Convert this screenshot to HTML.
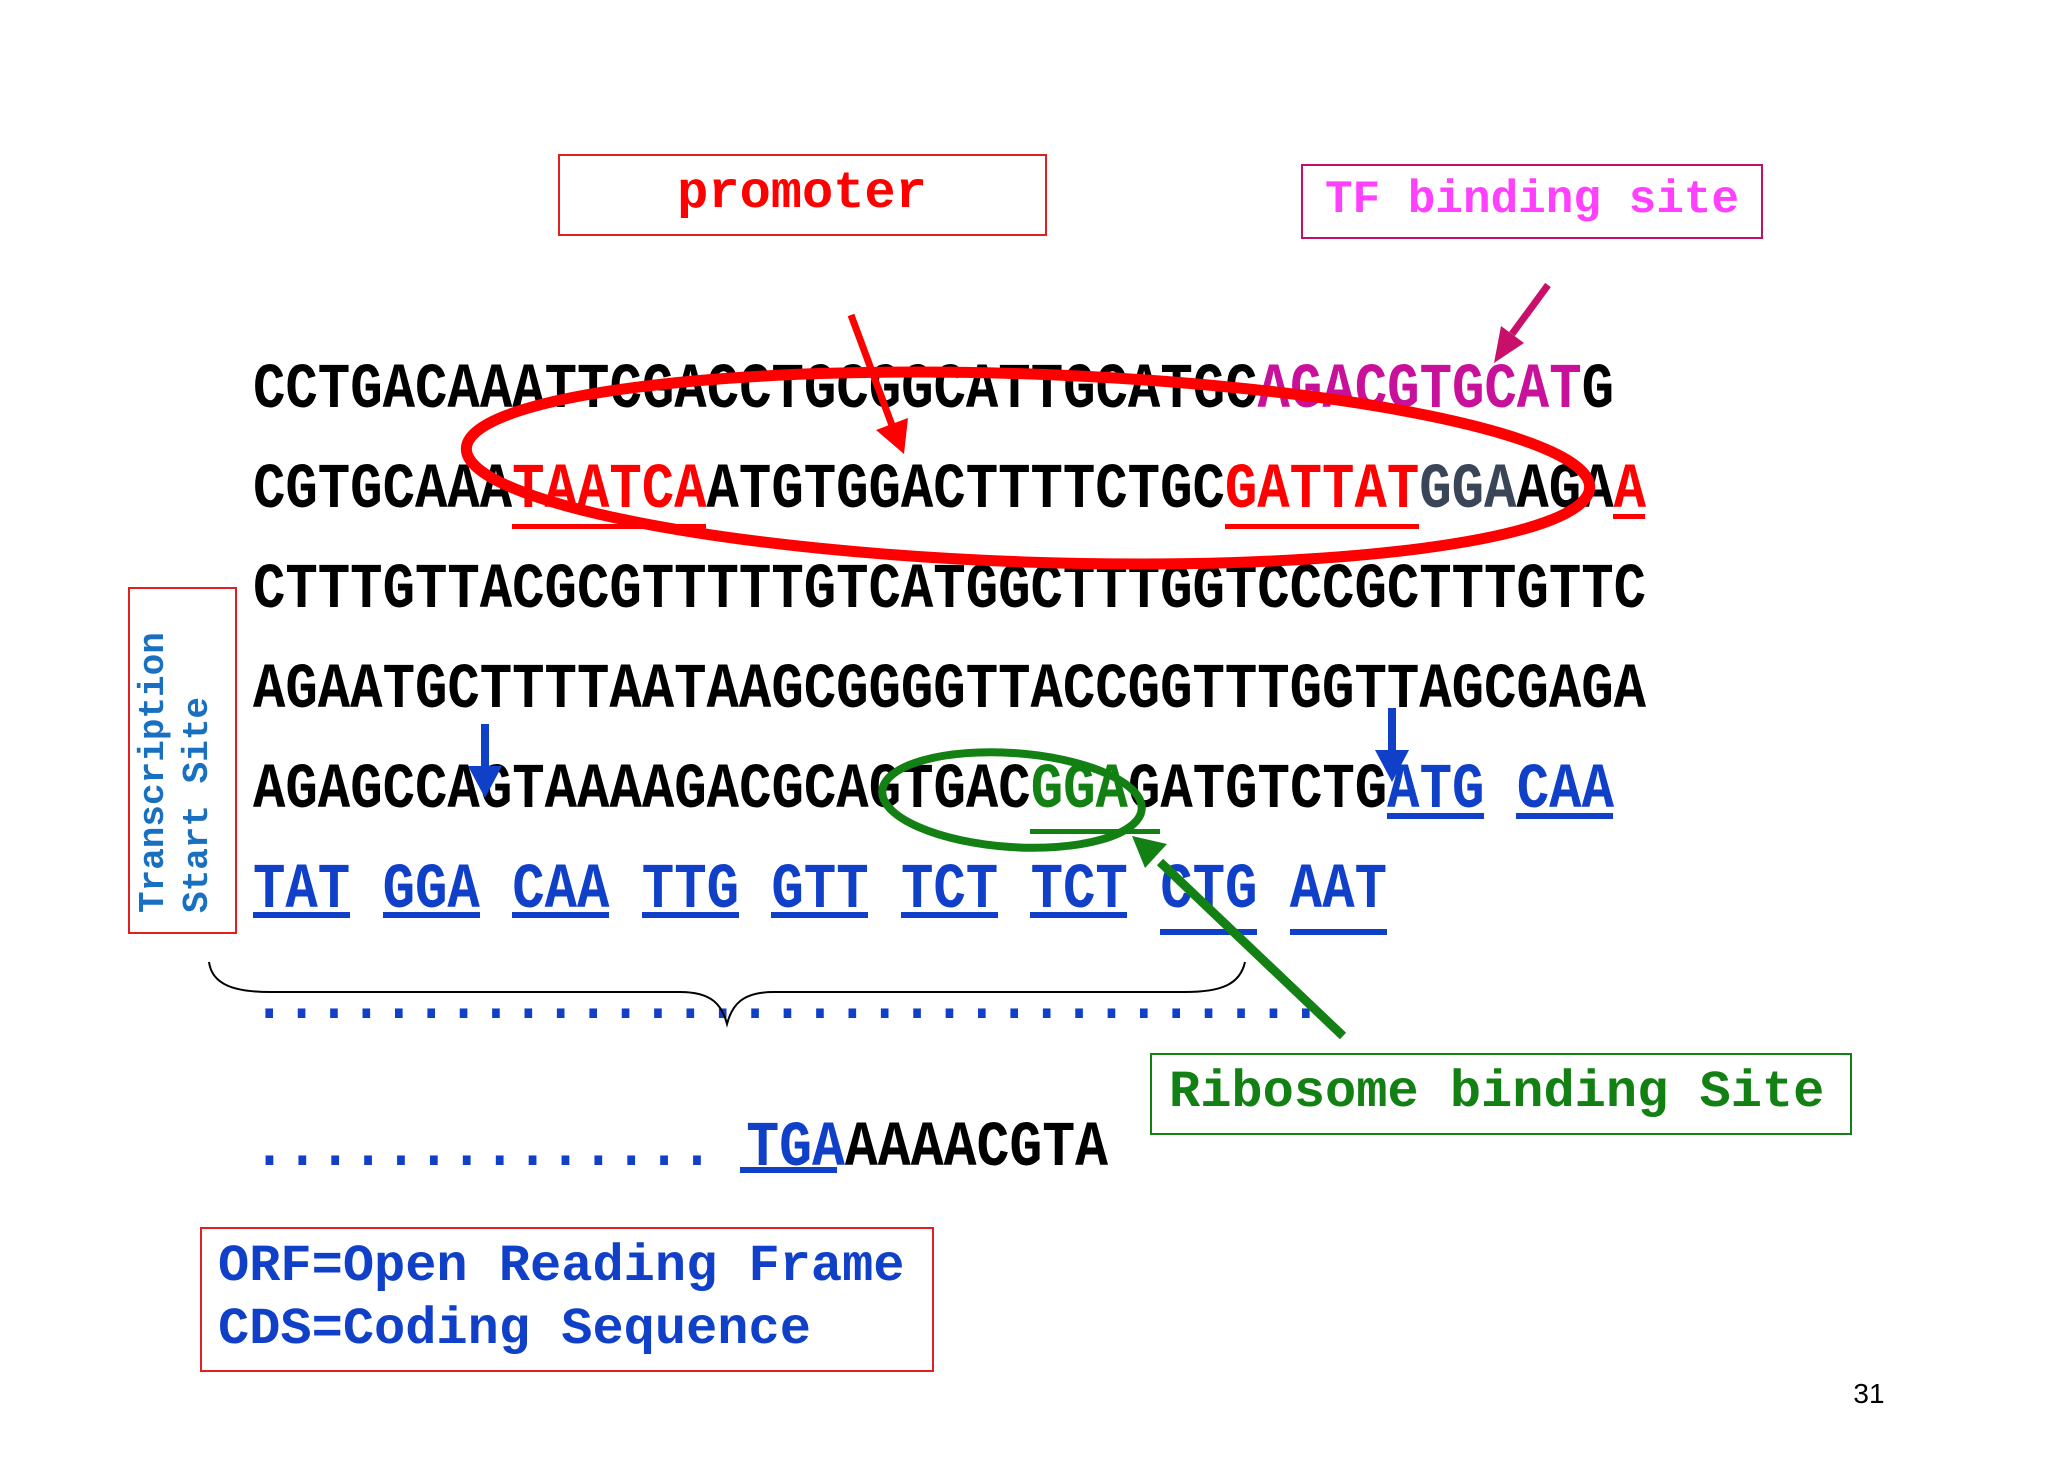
<!DOCTYPE html>
<html><head><meta charset="utf-8"><style>
html,body{margin:0;padding:0;background:#fff;}
svg{display:block;}
.s{font-family:"Liberation Mono",monospace;font-weight:bold;font-size:64px;}
.l{font-family:"Liberation Mono",monospace;font-weight:bold;}
</style></head><body>
<svg width="2048" height="1462" viewBox="0 0 2048 1462" xmlns="http://www.w3.org/2000/svg">
<rect width="2048" height="1462" fill="#fff"/>
<rect x="559" y="155" width="487" height="80" fill="none" stroke="#e02020" stroke-width="2"/>
<text x="802" y="207" class="l" font-size="52" fill="#ff0000" text-anchor="middle">promoter</text>
<rect x="1302" y="165" width="460" height="73" fill="none" stroke="#c0106a" stroke-width="2"/>
<text x="1532" y="212" class="l" font-size="46" fill="#ff40ff" text-anchor="middle">TF binding site</text>

<text x="253" y="407" class="s" textLength="1361" lengthAdjust="spacingAndGlyphs">CCTGACAAATTCGACCTGCGGCATTGCATGC<tspan fill="#c8109a">AGACGTGCAT</tspan>G</text>
<text x="253" y="507" class="s" textLength="1393" lengthAdjust="spacingAndGlyphs">CGTGCAAA<tspan fill="#ff0000">TAATCA</tspan>ATGTGGACTTTTCTGC<tspan fill="#ff0000">GATTAT</tspan><tspan fill="#3a4658">GGA</tspan>AGA<tspan fill="#ff0000">A</tspan></text>
<text x="253" y="607" class="s" textLength="1393" lengthAdjust="spacingAndGlyphs">CTTTGTTACGCGTTTTTGTCATGGCTTTGGTCCCGCTTTGTTC</text>
<text x="253" y="707" class="s" textLength="1393" lengthAdjust="spacingAndGlyphs">AGAATGCTTTTAATAAGCGGGGTTACCGGTTTGGTTAGCGAGA</text>
<text x="253" y="807" class="s" textLength="1361" lengthAdjust="spacingAndGlyphs">AGAGCCAGTAAAAGACGCAGTGAC<tspan fill="#128012">GGA</tspan>GATGTCTG<tspan fill="#1040c8">ATG CAA</tspan></text>
<text x="253" y="907" class="s" fill="#1040c8" textLength="1134" lengthAdjust="spacingAndGlyphs">TAT GGA CAA TTG GTT TCT TCT CTG AAT</text>

<g fill="#ff0000">
<rect x="512" y="524" width="194" height="5"/>
<rect x="1225" y="524" width="194" height="5"/>
<rect x="1613" y="514" width="32" height="5"/>
</g>
<g fill="#1040c8">
<rect x="1387" y="813" width="97" height="6"/>
<rect x="1516" y="813" width="97" height="6"/>
<rect x="253" y="912" width="97" height="6"/>
<rect x="383" y="912" width="97" height="6"/>
<rect x="512" y="912" width="97" height="6"/>
<rect x="642" y="912" width="97" height="6"/>
<rect x="771" y="912" width="97" height="6"/>
<rect x="901" y="912" width="97" height="6"/>
<rect x="1030" y="912" width="97" height="6"/>
<rect x="1160" y="929" width="97" height="6"/>
<rect x="1290" y="929" width="97" height="6"/>
</g>
<rect x="1030" y="829" width="130" height="5" fill="#128012"/>

<text x="253" y="1018" class="s" fill="#1040c8" textLength="1069" lengthAdjust="spacingAndGlyphs">.................................</text>
<text x="253" y="1165" class="s" textLength="855" lengthAdjust="spacingAndGlyphs"><tspan fill="#1040c8">.............. TGA</tspan>AAAACGTA</text>
<rect x="740" y="1167" width="97" height="6" fill="#1040c8"/>

<path d="M209,962 C212,985 235,992 270,992 L680,992 C712,992 722,1005 727,1024 C732,1005 742,992 774,992 L1185,992 C1220,992 1240,985 1245,962" fill="none" stroke="#000" stroke-width="2"/>

<ellipse cx="1028" cy="468" rx="562" ry="94" transform="rotate(2 1028 468)" fill="none" stroke="#ff0000" stroke-width="11"/>
<line x1="851" y1="315" x2="893" y2="428" stroke="#ff0000" stroke-width="7"/>
<polygon points="876,430 904,454 908,418" fill="#ff0000"/>
<line x1="1548" y1="285" x2="1512" y2="334" stroke="#c8106a" stroke-width="7"/>
<polygon points="1494,363 1501,326 1524,343" fill="#c8106a"/>

<ellipse cx="1012" cy="800" rx="130" ry="47" transform="rotate(4 1012 800)" fill="none" stroke="#128012" stroke-width="8"/>
<line x1="1343" y1="1036" x2="1160" y2="862" stroke="#128012" stroke-width="9"/>
<polygon points="1132,836 1167,844 1145,868" fill="#128012"/>

<rect x="481" y="724" width="8" height="45" fill="#1040c8"/>
<polygon points="468,766 502,766 485,798" fill="#1040c8"/>
<rect x="1388" y="708" width="8" height="45" fill="#1040c8"/>
<polygon points="1375,750 1409,750 1392,782" fill="#1040c8"/>

<rect x="129" y="588" width="107" height="345" fill="none" stroke="#e02020" stroke-width="2"/>
<text transform="translate(163,913) rotate(-90)" class="l" font-size="36" fill="#1a70c0">Transcription</text>
<text transform="translate(207,913) rotate(-90)" class="l" font-size="36" fill="#1a70c0">Start Site</text>

<rect x="1151" y="1054" width="700" height="80" fill="none" stroke="#128012" stroke-width="2"/>
<text x="1169" y="1106" class="l" font-size="52" fill="#128012">Ribosome binding Site</text>

<rect x="201" y="1228" width="732" height="143" fill="none" stroke="#e02020" stroke-width="2"/>
<text x="218" y="1280" class="l" font-size="52" fill="#1040c8">ORF=Open Reading Frame</text>
<text x="218" y="1343" class="l" font-size="52" fill="#1040c8">CDS=Coding Sequence</text>

<text x="1869" y="1403" font-family="Liberation Sans,sans-serif" font-size="28" fill="#000" text-anchor="middle">31</text>
</svg>
</body></html>
